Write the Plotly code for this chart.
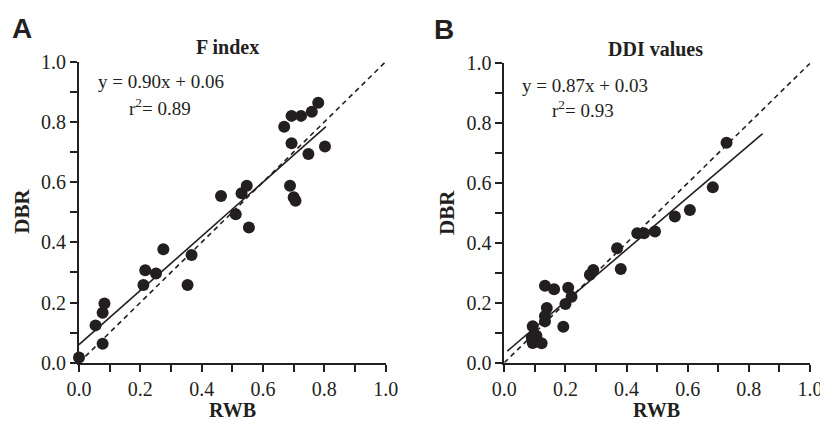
import plotly.graph_objects as go

# Panel A: F index
a_rwb = [0.0, 0.054, 0.077, 0.077, 0.083, 0.21, 0.216, 0.251, 0.275, 0.354, 0.367,
         0.511, 0.554, 0.463, 0.53, 0.547, 0.688, 0.70, 0.706, 0.669, 0.693, 0.724,
         0.759, 0.78, 0.693, 0.748, 0.802]
a_dbr = [0.017, 0.124, 0.063, 0.166, 0.197, 0.258, 0.307, 0.296, 0.377, 0.258, 0.358,
         0.493, 0.449, 0.554, 0.563, 0.588, 0.588, 0.55, 0.538, 0.784, 0.82, 0.82,
         0.834, 0.864, 0.729, 0.693, 0.718]
a_slope, a_icpt, a_fit_x = 0.90, 0.06, [0.0, 0.805]

# Panel B: DDI values
b_rwb = [0.093, 0.09, 0.093, 0.105, 0.122, 0.133, 0.163, 0.139, 0.133, 0.133, 0.193,
         0.2, 0.209, 0.22, 0.28, 0.291, 0.369, 0.381, 0.435, 0.457, 0.493, 0.558,
         0.607, 0.682, 0.727]
b_dbr = [0.122, 0.083, 0.066, 0.09, 0.065, 0.257, 0.245, 0.183, 0.156, 0.138, 0.12,
         0.196, 0.25, 0.22, 0.294, 0.31, 0.382, 0.313, 0.432, 0.432, 0.438, 0.488,
         0.51, 0.586, 0.735]
b_slope, b_icpt, b_fit_x = 0.87, 0.03, [0.01, 0.845]

identity = [0.0, 1.0]

INK = "#231f20"
SERIF = "Liberation Serif, Times New Roman, serif"

fig = go.Figure()

panels = [
    ("x", "y", a_rwb, a_dbr, a_slope, a_icpt, a_fit_x),
    ("x2", "y2", b_rwb, b_dbr, b_slope, b_icpt, b_fit_x),
]
for xa, ya, xs, ys, m, c, fx in panels:
    fig.add_trace(go.Scatter(x=identity, y=identity, mode="lines", xaxis=xa, yaxis=ya,
                             line=dict(color=INK, width=1.6, dash="5px,4px"),
                             showlegend=False, hoverinfo="skip", cliponaxis=False))
    fig.add_trace(go.Scatter(x=fx, y=[m * v + c for v in fx], mode="lines", xaxis=xa, yaxis=ya,
                             line=dict(color=INK, width=1.6), showlegend=False,
                             hoverinfo="skip", cliponaxis=False))
    fig.add_trace(go.Scatter(x=xs, y=ys, mode="markers", xaxis=xa, yaxis=ya,
                             marker=dict(color=INK, size=12), showlegend=False,
                             cliponaxis=False))

axis_common = dict(range=[0, 1], showgrid=False, zeroline=False, showline=True,
                   linecolor=INK, linewidth=1.8, ticks="outside", ticklen=7,
                   tickwidth=1.5, tickcolor=INK, tick0=0, dtick=0.2, tickformat=".1f",
                   minor=dict(ticks="outside", dtick=0.1, tick0=0, ticklen=7,
                              tickwidth=1.5, tickcolor=INK, showgrid=False),
                   tickfont=dict(family=SERIF, size=20, color=INK), fixedrange=True,
                   automargin=False, ticklabeloverflow="allow")

fig.update_layout(
    width=820, height=422, margin=dict(l=0, r=0, t=0, b=0),
    paper_bgcolor="white", plot_bgcolor="white",
    xaxis=dict(domain=[79 / 820, 385.7 / 820], anchor="y", **axis_common),
    yaxis=dict(domain=[1 - 362.7 / 422, 1 - 61.7 / 422], anchor="x", **axis_common),
    xaxis2=dict(domain=[504.3 / 820, 810 / 820], anchor="y2", **axis_common),
    yaxis2=dict(domain=[1 - 362.7 / 422, 1 - 63.3 / 422], anchor="x2", **axis_common),
)

def ann(x, y, text, size, bold=False, family=SERIF, xanchor="center", angle=0):
    fig.add_annotation(x=x / 820, y=1 - y / 422, xref="paper", yref="paper",
                       text=f"<b>{text}</b>" if bold else text, showarrow=False,
                       xanchor=xanchor, yanchor="middle", textangle=angle,
                       font=dict(family=family, size=size, color=INK))

SANS = "Liberation Sans, Arial, sans-serif"
ann(22, 28, "A", 28, bold=True, family=SANS)
ann(444, 30, "B", 28, bold=True, family=SANS)
ann(227.5, 47, "F index", 20, bold=True)
ann(655, 49, "DDI values", 20, bold=True)
ann(96, 81, "y = 0.90x + 0.06", 19, xanchor="left")
ann(127, 107, "r<sup>2</sup>= 0.89", 19, xanchor="left")
ann(520, 85, "y = 0.87x + 0.03", 19, xanchor="left")
ann(550, 109, "r<sup>2</sup>= 0.93", 19, xanchor="left")
ann(232.5, 410, "RWB", 20, bold=True)
ann(656.7, 410, "RWB", 20, bold=True)
ann(21.7, 211, "DBR", 21, bold=True, angle=-90)
ann(447, 213, "DBR", 21, bold=True, angle=-90)

fig.write_html("out.html")
